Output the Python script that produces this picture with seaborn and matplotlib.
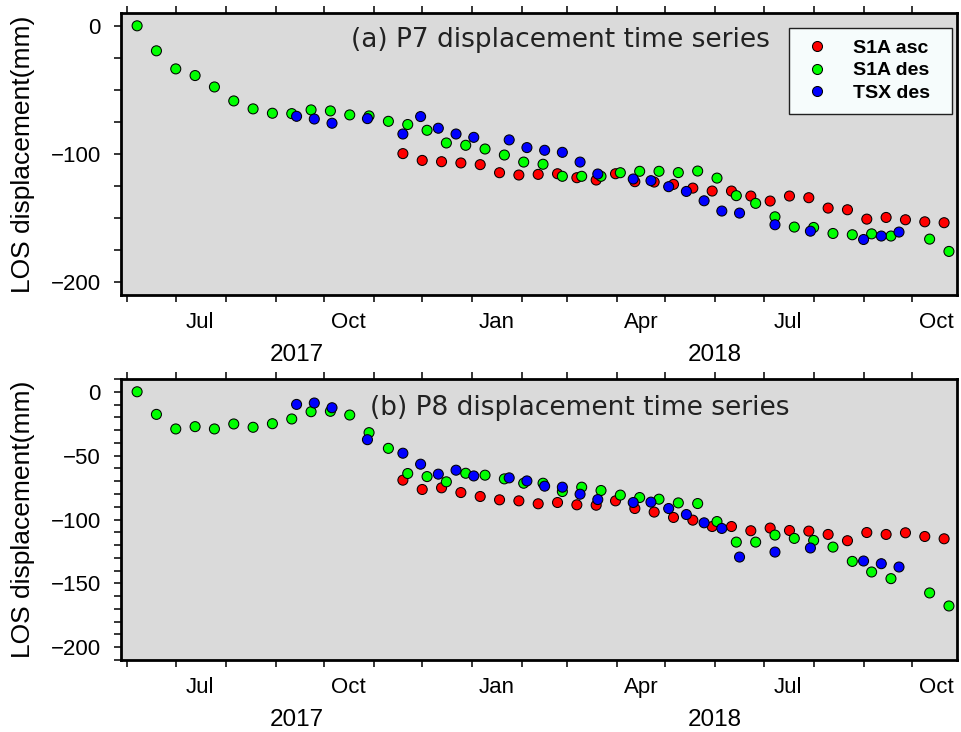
import matplotlib
matplotlib.use("Agg")
import matplotlib.pyplot as plt
import matplotlib.dates as mdates
from matplotlib.ticker import MultipleLocator, NullFormatter
import pandas as pd
import seaborn as sns

# Sensor names and their marker colours
sensors = ["S1A asc", "S1A des", "TSX des"]
sensor_colors = ["#ff0000", "#00ff00", "#0000ff"]

# Acquisition dates for each sensor
dates_s1a_asc = [
    "2017-11-19", "2017-12-01", "2017-12-13", "2017-12-25", "2018-01-06", "2018-01-18",
    "2018-01-30", "2018-02-11", "2018-02-23", "2018-03-07", "2018-03-19", "2018-03-31",
    "2018-04-12", "2018-04-24", "2018-05-06", "2018-05-18", "2018-05-30", "2018-06-11",
    "2018-06-23", "2018-07-05", "2018-07-17", "2018-07-29", "2018-08-10", "2018-08-22",
    "2018-09-03", "2018-09-15", "2018-09-27", "2018-10-09", "2018-10-21",
]
dates_s1a_des = [
    "2017-06-07", "2017-06-19", "2017-07-01", "2017-07-13", "2017-07-25", "2017-08-06",
    "2017-08-18", "2017-08-30", "2017-09-11", "2017-09-23", "2017-10-05", "2017-10-17",
    "2017-10-29", "2017-11-10", "2017-11-22", "2017-12-04", "2017-12-16", "2017-12-28",
    "2018-01-09", "2018-01-21", "2018-02-02", "2018-02-14", "2018-02-26", "2018-03-10",
    "2018-03-22", "2018-04-03", "2018-04-15", "2018-04-27", "2018-05-09", "2018-05-21",
    "2018-06-02", "2018-06-14", "2018-06-26", "2018-07-08", "2018-07-20", "2018-08-01",
    "2018-08-13", "2018-08-25", "2018-09-06", "2018-09-18", "2018-10-12", "2018-10-24",
]
dates_tsx_des = [
    "2017-09-14", "2017-09-25", "2017-10-06", "2017-10-28", "2017-11-19", "2017-11-30",
    "2017-12-11", "2017-12-22", "2018-01-02", "2018-01-24", "2018-02-04", "2018-02-15",
    "2018-02-26", "2018-03-09", "2018-03-20", "2018-04-11", "2018-04-22", "2018-05-03",
    "2018-05-14", "2018-05-25", "2018-06-05", "2018-06-16", "2018-07-08", "2018-07-30",
    "2018-09-01", "2018-09-12", "2018-09-23",
]

# P7 LOS displacement (mm)
p7_s1a_asc = [
    -99.7, -105.0, -106.0, -107.0, -108.3, -114.6, -116.4, -115.9, -115.4, -118.5,
    -120.3, -115.4, -121.6, -121.9, -123.7, -126.6, -128.9, -128.9, -132.8, -136.7,
    -132.8, -134.1, -142.2, -143.5, -150.8, -149.5, -151.3, -152.9, -153.6,
]
p7_s1a_des = [
    0.0, -19.5, -33.6, -38.8, -47.7, -58.6, -64.8, -68.2, -68.5, -65.6,
    -66.4, -69.5, -70.3, -74.5, -77.0, -81.5, -91.4, -93.2, -96.1, -100.8,
    -106.3, -108.0, -117.4, -117.4, -117.4, -114.6, -113.5, -113.5, -114.5, -113.3,
    -118.8, -132.5, -138.5, -149.0, -157.0, -157.3, -162.0, -163.0, -162.3, -164.0,
    -166.4, -176.0,
]
p7_tsx_des = [
    -70.6, -72.7, -76.0, -72.4, -84.4, -70.8, -79.9, -84.4, -87.0, -89.0,
    -95.0, -97.1, -98.7, -106.3, -115.6, -119.5, -120.8, -125.5, -129.2, -136.5,
    -144.5, -146.1, -155.2, -160.2, -166.7, -164.0, -160.9,
]

# P8 LOS displacement (mm)
p8_s1a_asc = [
    -69.2, -76.5, -75.2, -78.9, -82.0, -84.6, -85.4, -87.7, -86.7, -88.5,
    -88.8, -85.4, -91.4, -94.2, -98.4, -100.5, -105.5, -105.5, -108.8, -106.7,
    -108.6, -109.1, -111.7, -116.6, -110.2, -111.7, -110.4, -113.3, -115.1,
]
p8_s1a_des = [
    0.0, -17.7, -29.1, -27.3, -29.1, -25.2, -27.8, -25.0, -21.3, -15.6,
    -15.3, -18.2, -32.0, -44.3, -64.0, -66.4, -70.5, -63.8, -65.3, -68.2,
    -71.6, -71.6, -78.1, -74.7, -77.3, -80.9, -82.8, -84.1, -87.0, -87.5,
    -101.6, -117.7, -117.7, -112.2, -114.8, -116.4, -121.6, -132.8, -141.1, -146.3,
    -157.5, -167.7,
]
p8_tsx_des = [
    -9.9, -8.8, -12.5, -37.5, -48.1, -56.7, -64.5, -61.4, -65.9, -67.4,
    -69.8, -73.9, -74.7, -80.2, -84.4, -86.7, -86.4, -91.4, -96.1, -102.6,
    -107.0, -129.4, -125.5, -122.3, -132.5, -134.6, -137.2,
]

panel_titles = ["(a) P7 displacement time series", "(b) P8 displacement time series"]
year_labels = ["2017", "2018"]
y_label = "LOS displacement(mm)"


def long_table(asc, des, tsx):
    parts = []
    for name, d, v in zip(sensors, [dates_s1a_asc, dates_s1a_des, dates_tsx_des], [asc, des, tsx]):
        parts.append(pd.DataFrame({"date": pd.to_datetime(d), "disp": v, "sensor": name}))
    return pd.concat(parts, ignore_index=True)


tables = [long_table(p7_s1a_asc, p7_s1a_des, p7_tsx_des),
          long_table(p8_s1a_asc, p8_s1a_des, p8_tsx_des)]

sns.set_theme(style="ticks")
plt.rcParams.update({
    "axes.facecolor": "#dadada",
    "axes.edgecolor": "black",
    "axes.linewidth": 2.0,
    "xtick.color": "black",
    "ytick.color": "black",
    "text.color": "black",
    "axes.labelcolor": "black",
})
plt.rcParams["font.family"] = ["Liberation Sans", "DejaVu Sans"]

fig = plt.figure(figsize=(9.61, 7.32), dpi=100)
W, H = 961.0, 732.0
axes = [
    fig.add_axes([121 / W, 1 - 295 / H, 836 / W, 282 / H]),
    fig.add_axes([121 / W, 1 - 660 / H, 836 / W, 281 / H]),
]

xlim = (pd.Timestamp("2017-05-28"), pd.Timestamp("2018-10-29"))
palette = dict(zip(sensors, sensor_colors))
y_steps = [(100, 25), (50, 10)]
title_pos = [(0.2748, 0.878), (0.2978, 0.872)]

for i, (ax, df) in enumerate(zip(axes, tables)):
    sns.scatterplot(data=df, x="date", y="disp", hue="sensor", hue_order=sensors,
                    palette=palette, s=52, edgecolor="black", linewidth=0.75,
                    ax=ax, legend=(i == 0), zorder=3)
    ax.set_xlim(xlim)
    ax.set_ylim(-210, 10)
    ax.set_xlabel("")
    ax.set_ylabel(y_label, fontsize=19)
    ax.yaxis.set_label_coords(-0.103, 0.5)

    # month ticks on both edges; quarter-month names centred in their month
    ax.xaxis.set_major_locator(mdates.MonthLocator())
    ax.xaxis.set_major_formatter(NullFormatter())
    ax.xaxis.set_minor_locator(mdates.MonthLocator(bymonth=[1, 4, 7, 10], bymonthday=16))
    ax.xaxis.set_minor_formatter(mdates.DateFormatter("%b"))
    ax.tick_params(axis="x", which="major", direction="out", length=5, width=1.1,
                   top=True, bottom=True)
    ax.tick_params(axis="x", which="minor", length=0, pad=12, labelsize=16,
                   top=False, bottom=True)

    major, minor = y_steps[i]
    ax.yaxis.set_major_locator(MultipleLocator(major))
    ax.yaxis.set_minor_locator(MultipleLocator(minor))
    ax.tick_params(axis="y", which="both", direction="out", length=5, width=1.1,
                   left=True, right=False, pad=9.5, labelsize=16)

    # year names centred under the visible part of each year
    for yr in year_labels:
        start = max(xlim[0], pd.Timestamp(f"{yr}-01-01"))
        end = min(xlim[1], pd.Timestamp(f"{int(yr) + 1}-01-01"))
        mid = start + (end - start) / 2
        ax.annotate(yr, xy=(mdates.date2num(mid), 0), xycoords=ax.get_xaxis_transform(),
                    xytext=(0, -47.3), textcoords="offset points",
                    ha="center", va="baseline", fontsize=17.5, annotation_clip=False)

    tx, ty = title_pos[i]
    ax.text(tx, ty, panel_titles[i], transform=ax.transAxes, ha="left", va="baseline",
            fontsize=19, color="#222222", family=["DejaVu Sans"],
            fontweight="normal", zorder=4)

    for sp in ax.spines.values():
        sp.set_linewidth(2.0)
        sp.set_visible(True)

# legend in the upper panel
leg_old = axes[0].get_legend()
handles = leg_old.legend_handles
labels = [t.get_text() for t in leg_old.texts]
leg_old.remove()
x0 = (789 - 121) / 836.0
w = (952 - 789) / 836.0
top = 1 - (27.7 - 13) / 282.0
leg = axes[0].legend(handles, labels, loc="upper left",
                     bbox_to_anchor=(x0, top - 0.4, w, 0.4), mode="expand",
                     borderaxespad=0, fancybox=False, framealpha=1,
                     facecolor="#f6fcfc", edgecolor="#202020",
                     prop={"family": "Liberation Sans", "weight": "bold", "size": 14},
                     handlelength=1.66, handletextpad=1.04, borderpad=0.6,
                     labelspacing=0.25)
leg.get_frame().set_linewidth(1.0)
leg.set_zorder(5)

fig.savefig("out.png", dpi=100)
